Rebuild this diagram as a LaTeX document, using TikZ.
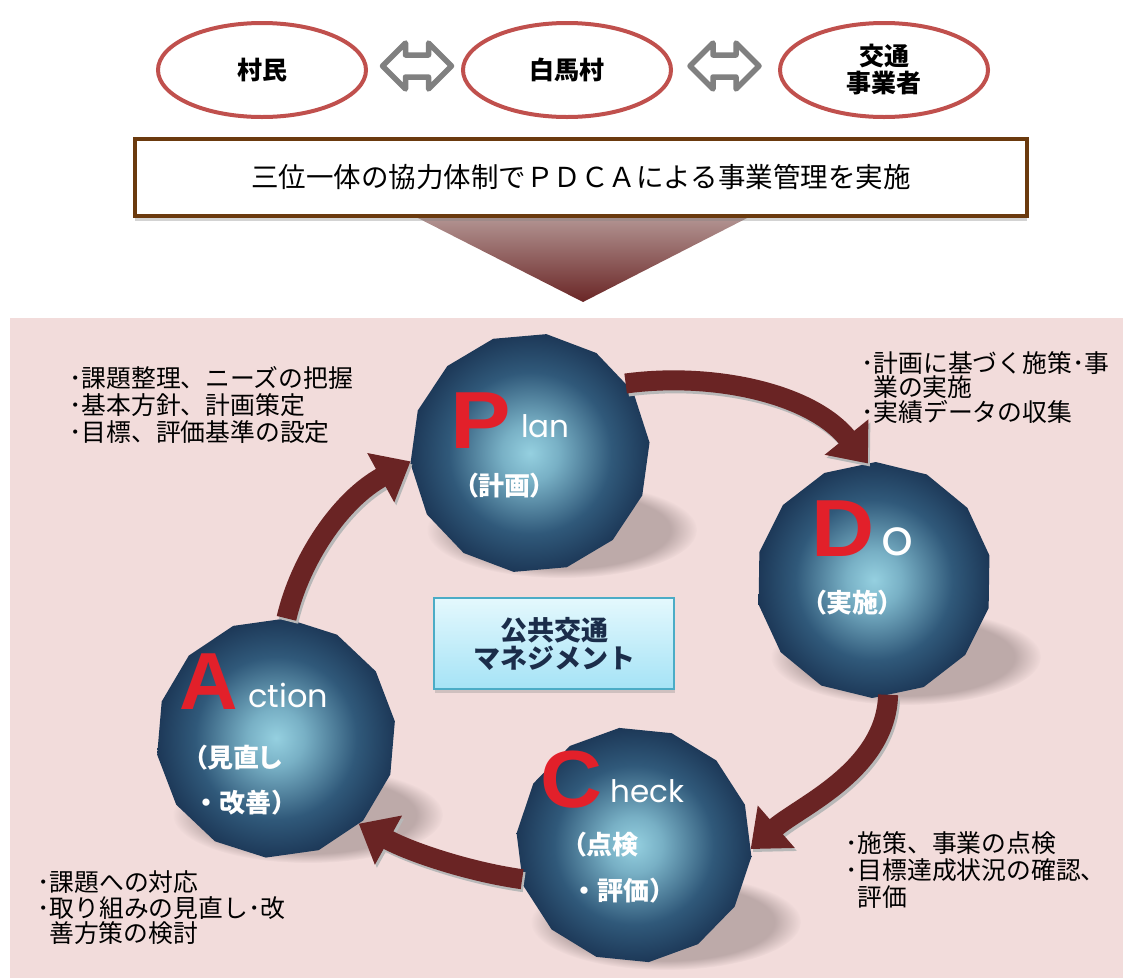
\documentclass[tikz,border=0pt]{standalone}
\usepackage{fontspec}
\setmainfont{Noto Sans CJK JP}
\newfontfamily\jp{Noto Sans CJK JP}
\newfontfamily\jpp{Noto Sans CJK JP}[RawFeature=+palt]
\newfontfamily\lsans{Liberation Sans}
\newfontfamily\pop{Poppins}
\usetikzlibrary{shapes.geometric,arrows.meta,shadows,fadings,calc}
\definecolor{ellred}{HTML}{C0504D}
\definecolor{bgpink}{HTML}{F2DCDB}
\definecolor{bannerbr}{HTML}{6B3A0E}
\definecolor{maroon}{HTML}{6A2424}
\definecolor{ballc}{HTML}{95D0E0}
\definecolor{ballc2}{HTML}{78B0C5}
\definecolor{ballm}{HTML}{30597A}
\definecolor{ballm2}{HTML}{18304F}
\definecolor{balld}{HTML}{12263F}
\definecolor{boxtop}{HTML}{E4F8FD}
\definecolor{boxbot}{HTML}{A5E3F6}
\definecolor{boxbd}{HTML}{4BACC6}
\definecolor{boxtxt}{HTML}{1B2D4A}
\definecolor{letred}{HTML}{E2202A}
\definecolor{tritop}{HTML}{B59896}
\definecolor{tribot}{HTML}{6A2626}
\definecolor{shd}{HTML}{7E6E6E}
\definecolor{dblgray}{HTML}{808080}
\definecolor{bevel}{HTML}{B8B8B8}
\pgfdeclareradialshading{ballshade}{\pgfpoint{0bp}{0bp}}{color(0bp)=(ballc); color(6bp)=(ballc2); color(17bp)=(ballm); color(27bp)=(ballm2); color(36bp)=(balld); color(80bp)=(balld)}
\newcommand{\mycyc}[4]{%
  \draw[cyc, draw=bevel] ($#1+(2,3)$) .. controls ($#2+(2,3)$) and ($#3+(2,3)$) .. ($#4+(2,3)$);
  \draw[cyc] #1 .. controls #2 and #3 .. #4;}
\tikzset{
  ellnode/.style={ellipse, draw=ellred, line width=4pt, fill=white, minimum width=208pt, minimum height=94pt, inner sep=0pt, align=center, font=\bfseries\fontsize{25}{27}\selectfont},
  dbl/.style={draw=dblgray, line width=5.5pt, fill=white, line join=round},
  ball/.style={regular polygon, regular polygon sides=14, minimum size=240pt, inner sep=0pt, shading=ballshade},
  ballshadow/.style={fill=shd, opacity=0.45, path fading=circle with fuzzy edge 20 percent},
  cyc/.style={line width=20pt, draw=maroon, -{Triangle[width=54pt,length=34pt]}},
  letter/.style={inner sep=0pt, text=letred, font=\lsans\bfseries\fontsize{81}{81}\selectfont},
  eng/.style={inner sep=0pt, anchor=base west, text=white, font=\pop\fontsize{31}{31}\selectfont},
  jpw/.style={inner sep=0pt, anchor=west, text=white, font=\jpp\bfseries\fontsize{26}{26}\selectfont},
  jpwf/.style={jpw, font=\jp\bfseries\fontsize{26}{26}\selectfont},
  note/.style={inner sep=0pt, anchor=base west, font=\fontsize{24.8}{24.8}\selectfont},
}
\begin{document}
\begin{tikzpicture}[x=1pt,y=-1pt]
\useasboundingbox (0,0) rectangle (1123,978);
% background panel
\fill[bgpink] (10,318) rectangle (1123,978);
% downward triangle
\shade[top color=tritop, bottom color=tribot] (410,214) -- (755,214) -- (583,302) -- cycle;
% banner
\node[draw=bannerbr, line width=4.5pt, fill=white, minimum width=892pt, minimum height=77pt, inner sep=0pt,
  drop shadow={shadow xshift=0pt, shadow yshift=-5pt, opacity=0.35},
  font=\fontsize{27.5}{27.5}\selectfont] (banner) at (581,177.5) {三位一体の協力体制でＰＤＣＡによる事業管理を実施};
% stakeholder ellipses
\node[ellnode] (villagers) at (262,70) {村民};
\node[ellnode] (hakuba) at (567,70) {白馬村};
\node[ellnode] (operators) at (884,70) {交通\\事業者};
% double arrows
\begin{scope}[shift={(417,66)}]
\draw[dbl] (-34.5,0) -- (-11.5,-23) -- (-11.5,-11) -- (11.5,-11) -- (11.5,-23) -- (34.5,0) -- (11.5,23) -- (11.5,11) -- (-11.5,11) -- (-11.5,23) -- cycle;
\end{scope}
\begin{scope}[shift={(724.5,66)}]
\draw[dbl] (-34.5,0) -- (-11.5,-23) -- (-11.5,-11) -- (11.5,-11) -- (11.5,-23) -- (34.5,0) -- (11.5,23) -- (11.5,11) -- (-11.5,11) -- (-11.5,23) -- cycle;
\end{scope}
% ball shadows
\fill[ballshadow] (562,530) ellipse [x radius=135pt, y radius=48pt];
\fill[ballshadow] (906,657) ellipse [x radius=135pt, y radius=48pt];
\fill[ballshadow] (666,922) ellipse [x radius=135pt, y radius=48pt];
\fill[ballshadow] (308,815) ellipse [x radius=135pt, y radius=48pt];
% balls
\node[ball, minimum size=240pt, shape border rotate=5] (P) at (530,453) {};
\node[ball, minimum size=236pt, shape border rotate=12] (D) at (874,580) {};
\node[ball, minimum size=236pt, shape border rotate=20] (C) at (634,845) {};
\node[ball, minimum size=240pt, shape border rotate=8] (A) at (276,738) {};
% cycle arrows
\mycyc{(P.36)}{(710,372)}{(810,392)}{(D.93)}
\mycyc{(D.277)}{(886,770)}{(800,806)}{(C.358)}
\mycyc{(C.197)}{(470,872)}{(410,852)}{(A.314)}
\mycyc{(A.85)}{(300,560)}{(340,500)}{(P.184)}
% big letters
\node[letter] (Pl) at (481,421) {\scalebox{1.12}[1]{P}};
\node[letter] (Dl) at (843,529) {\scalebox{1.08}[1]{D}};
\node[letter] (Cl) at (571,780) {\scalebox{1.06}[1]{C}};
\node[letter] (Al) at (209,682) {A};
% english words
\node[eng] (Pw) at (521,437) {lan};
\node[eng, font=\pop\fontsize{50}{50}\selectfont] (Dw) at (881,555) {o};
\node[eng, font=\pop\fontsize{32}{32}\selectfont] (Aw) at (248,707) {ction};
\node[eng] (Cw) at (610,802) {heck};
% japanese in balls
\node[jpw] (Pj) at (465,486) {（計画）};
\node[jpw] (Dj) at (813,603) {（実施）};
\node[jpw] (Aj1) at (194,758) {（見直し};
\node[jpwf] (Aj2) at (193,803) {・改善）};
\node[jpw] (Cj1) at (573,845) {（点検};
\node[jpwf] (Cj2) at (571,891) {・評価）};
% centre box
\node[draw=boxbd, line width=2pt, top color=boxtop, bottom color=boxbot, minimum width=240pt, minimum height=91pt, inner sep=0pt,
  drop shadow={shadow xshift=1pt, shadow yshift=-4pt, opacity=0.3},
  align=center, text=boxtxt, font=\bfseries\fontsize{27}{28}\selectfont] (mgmt) at (554,643.5) {公共交通\\マネジメント};
% notes
\node[note] (n1a) at (69,387) {･課題整理、ニーズの把握};
\node[note] (n1b) at (69,414) {･基本方針、計画策定};
\node[note] (n1c) at (69,441) {･目標、評価基準の設定};
\node[note] (n2a) at (861,372) {･計画に基づく施策･事};
\node[note] (n2b) at (873,396) {業の実施};
\node[note] (n2c) at (861,421) {･実績データの収集};
\node[note] (n3a) at (845,852) {･施策、事業の点検};
\node[note] (n3b) at (845,879) {･目標達成状況の確認、};
\node[note] (n3c) at (857,906) {評価};
\node[note] (n4a) at (37,891) {･課題への対応};
\node[note] (n4b) at (37,917) {･取り組みの見直し･改};
\node[note] (n4c) at (49,942) {善方策の検討};
\end{tikzpicture}
\end{document}
